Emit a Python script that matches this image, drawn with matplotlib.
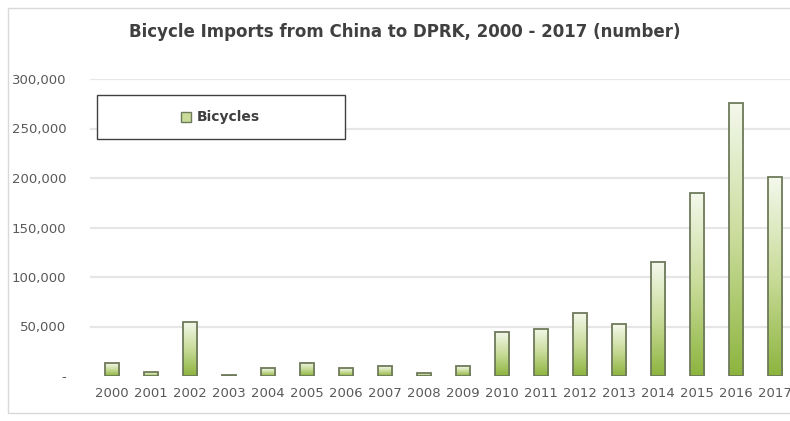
import numpy as np
import matplotlib
matplotlib.use("Agg")
import matplotlib.pyplot as plt
from matplotlib.patches import Rectangle
from matplotlib.colors import LinearSegmentedColormap
from matplotlib.ticker import FuncFormatter

# ── DATA ──────────────────────────────────────────────────────────────────────
years = [str(y) for y in range(2000, 2018)]
bicycles = [13000, 4000, 55000, 1500, 8000, 13500, 8000, 10000, 3000, 10000,
            44500, 47500, 63500, 52500, 115000, 185000, 276000, 201000]
yticks = [0, 50000, 100000, 150000, 200000, 250000, 300000]
series_name = "Bicycles"
title = "Bicycle Imports from China to DPRK, 2000 - 2017 (number)"

# ── FIGURE ────────────────────────────────────────────────────────────────────
W, H = 790, 421
fig = plt.figure(figsize=(W / 100, H / 100), dpi=100)
fig.patch.set_facecolor("white")
px = lambda x, y: (x / W, 1 - y / H)   # pixel (from top-left) -> figure coords

# light outer frame of the chart area
fig.patches.append(Rectangle(px(8, 413), 1.2, (413 - 8) / H,
                             transform=fig.transFigure, fill=False,
                             edgecolor="#d9d9d9", linewidth=1.0))

ax = fig.add_axes([90 / W, 45 / H, 700 / W, 297 / H])
x = np.arange(len(years))

# gridlines
for t in yticks[1:]:
    ax.axhline(t, color="#e6e6e6", linewidth=1.6, zorder=0)

# gradient bars: pale top, green bottom
cmap = LinearSegmentedColormap.from_list("g", ["#8db43e", "#c9dc9a", "#f4f8ec"])
grad = np.linspace(0, 1, 256).reshape(-1, 1)
bars = ax.bar(x, bicycles, width=0.36, facecolor="none",
              edgecolor="#6e7a5a", linewidth=1.3, zorder=3)
for b in bars:
    x0, w, h = b.get_x(), b.get_width(), b.get_height()
    im = ax.imshow(grad, cmap=cmap, aspect="auto", origin="lower",
                   extent=[x0, x0 + w, 0, h], zorder=2)
    im.set_clip_path(b)

ax.set_xlim(-0.56, 17.38)
ax.set_ylim(0, 300000)

for s in ax.spines.values():
    s.set_visible(False)

ax.set_xticks(x)
ax.set_xticklabels(years)
ax.set_yticks(yticks)
ax.yaxis.set_major_formatter(FuncFormatter(lambda v, p: "-" if v == 0 else f"{int(v):,}"))
ax.tick_params(axis="both", length=0, colors="#595959", labelsize=9.5)
ax.tick_params(axis="y", pad=17)
ax.tick_params(axis="x", pad=8)

# legend box (drawn by hand to match the wide Excel legend)
fig.patches.append(Rectangle(px(97, 139), (345 - 97) / W, (139 - 95) / H,
                             transform=fig.transFigure, facecolor="white",
                             edgecolor="#404040", linewidth=1.0, zorder=5))
fig.patches.append(Rectangle(px(181, 122), 10 / W, 10 / H,
                             transform=fig.transFigure, facecolor="#c9dc9a",
                             edgecolor="#6e7a5a", linewidth=1.0, zorder=6))
fig.text(*px(197, 117), series_name, ha="left", va="center",
         fontsize=10, fontweight="bold", color="#404040", zorder=6)

fig.text(*px(405, 32), title, ha="center", va="center",
         fontsize=12, fontweight="bold", color="#404040")

fig.savefig("out.png", dpi=100)
